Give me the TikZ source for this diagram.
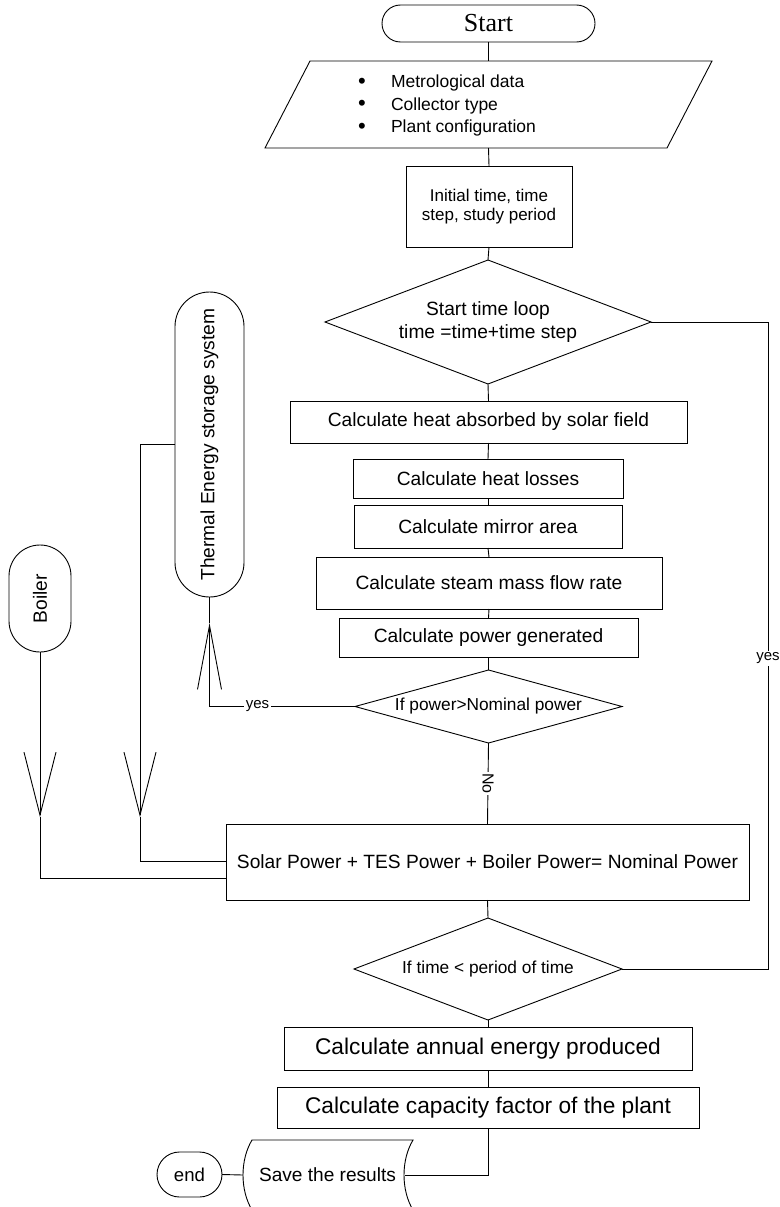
\documentclass[tikz,border=0pt]{standalone}
\usepackage{fontspec}
\setmainfont{Liberation Sans}
\newfontfamily\serifstart{Liberation Serif}
\usetikzlibrary{shapes.geometric,arrows.meta,calc}
\newcommand{\myfs}[2]{\fontsize{#1}{#2}\selectfont}
\newcommand{\mybul}{\makebox[33pt][l]{\raisebox{-0.6pt}{\myfs{22}{22}•}}}
\begin{document}
\begin{tikzpicture}[x=1pt,y=-1pt,
  every node/.style={inner sep=0pt,outer sep=0pt},
  ln/.style={draw=black,line width=0.9pt},
  proc/.style={ln,rectangle,align=center},
  term/.style={ln,rectangle,rounded corners=#1},
  dec/.style={ln,diamond,align=center,shape aspect=#1},
  lbl/.style={fill=white,inner sep=1.5pt,font=\myfs{15}{17}},
  barbdown/.style={-{Straight Barb[length=63pt,width=32pt]}},
  barbup/.style={-{Straight Barb[length=64pt,width=24pt]}}
]
\fill[white] (0,0) rectangle (779,1207);
\useasboundingbox (0,0) rectangle (779,1207);

% main column
\node[term=18.5pt,minimum width=213,minimum height=37] (start) at (488.5,23.5) {\serifstart\myfs{26}{30}Start};

\draw[ln] (310,61) -- (712,61) -- (667,148) -- (265,148) -- cycle;
\node[minimum width=357,minimum height=87] (input) at (488.5,104.5) {};
\node[anchor=west,align=left,font=\myfs{17.5}{22.5}] (items) at (358,105.5)
  {\mybul Metrological data\\\mybul Collector type\\\mybul Plant configuration};

\node[proc,minimum width=166,minimum height=81,font=\myfs{17}{19.5}] (init) at (489,206.5) {Initial time, time\\step, study period};

\node[dec=2.63,minimum width=326,minimum height=124,font=\myfs{19.2}{23}] (d1) at (488,322) {Start time loop\\time =time+time step};

\node[proc,minimum width=397,minimum height=42,font=\myfs{19.2}{23}] (b1) at (488.5,422) {Calculate heat absorbed by solar field};
\node[proc,minimum width=270,minimum height=39,font=\myfs{19.2}{23}] (b2) at (488,478.5) {Calculate heat losses};
\node[proc,minimum width=268,minimum height=43,font=\myfs{19.2}{23}] (b3) at (488,526.5) {Calculate mirror area};
\node[proc,minimum width=346,minimum height=52,font=\myfs{19.2}{23}] (b4) at (489,583) {Calculate steam mass flow rate};
\node[proc,minimum width=299,minimum height=39,font=\myfs{19.2}{23}] (b5) at (488.5,637.5) {Calculate power generated};

\node[dec=3.66,minimum width=267,minimum height=73,font=\myfs{17.3}{20}] (d2) at (488.5,706.5) {If power>Nominal power};

\node[proc,minimum width=523,minimum height=76,font=\myfs{19.2}{23}] (big) at (487.5,862) {Solar Power + TES Power + Boiler Power= Nominal Power};

\node[dec=2.63,minimum width=268,minimum height=102,font=\myfs{17.3}{20}] (d3) at (488,969) {If time < period of time};

\node[proc,minimum width=408,minimum height=43,font=\myfs{22.7}{26}] (annual) at (488,1048.5) {Calculate annual energy produced};
\node[proc,minimum width=422,minimum height=41,font=\myfs{22.7}{26}] (cap) at (488,1107.5) {Calculate capacity factor of the plant};

\draw[ln] (252,1140) -- (413,1140) .. controls (401,1160) and (401,1190) .. (413,1210)
  -- (252,1210) .. controls (240,1190) and (240,1160) .. (252,1140) -- cycle;
\node[minimum width=162,minimum height=50,font=\myfs{19.1}{22}] (save) at (324,1175) {\hspace*{7pt}Save the results};

\node[term=22.5pt,minimum width=65,minimum height=45,font=\myfs{18.6}{22}] (end) at (189.5,1174.5) {end};

% side elements
\node[term=34.5pt,rotate=90,minimum width=305,minimum height=69,font=\myfs{19.2}{23}] (tes) at (209.5,444.5) {Thermal Energy storage system};
\node[term=31pt,rotate=90,minimum width=107,minimum height=62,font=\myfs{19.2}{23}] (boiler) at (40,598.5) {Boiler};

% main connectors
\draw[ln] (start.south) -- (input.north);
\draw[ln] (input.south) -- (init.north);
\draw[ln] (init.south) -- (d1.north);
\draw[ln] (d1.south) -- (b1.north);
\draw[ln] (b1.south) -- (b2.north);
\draw[ln] (b2.south) -- (b3.north);
\draw[ln] (b3.south) -- (b4.north);
\draw[ln] (b4.south) -- (b5.north);
\draw[ln] (b5.south) -- (d2.north);
\draw[ln] (d2.south) -- node[lbl,rotate=-90,font=\myfs{16}{18}] {No} (big.north);
\draw[ln] (big.south) -- (d3.north);
\draw[ln] (d3.south) -- (annual.north);
\draw[ln] (annual.south) -- (cap.north);
\draw[ln] (cap.south) |- (save.east);
\draw[ln] (save.west) -- (end.east);

% loop back
\coordinate (yr) at (768,322);
\draw[ln] (d1.east) -- (yr) |- node[pos=0.26,lbl] {yes} (d3.east);

% yes to TES
\coordinate (ttip) at (209.5,623);
\draw[ln,barbup] (d2.west) -| node[pos=0.335,lbl] {yes} (ttip);
\draw[ln] (ttip) -- (tes.west);

% TES to big box
\coordinate (tesdown) at (140,817);
\draw[ln,barbdown] (tes.north) -| (tesdown);
\draw[ln] (tesdown) |- ($(big.west)+(0,-1)$);

% Boiler to big box
\coordinate (boildown) at (40,817);
\draw[ln,barbdown] (boiler.west) -- (boildown);
\draw[ln] (boildown) |- ($(big.west)+(0,16)$);
\end{tikzpicture}
\end{document}
